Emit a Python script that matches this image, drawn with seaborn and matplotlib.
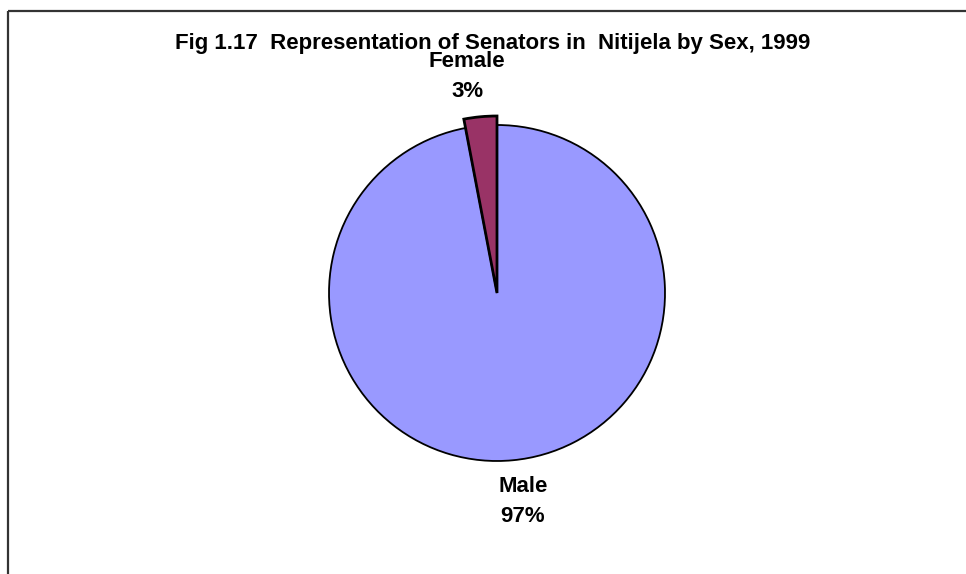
import matplotlib
matplotlib.use("Agg")
import matplotlib.pyplot as plt
import seaborn as sns
from matplotlib.lines import Line2D

# Senators in Nitijela by sex, 1999 (percent)
categories = ["Female", "Male"]
shares = [3, 97]
colors = ["#993366", "#9999FF"]
title = "Fig 1.17  Representation of Senators in  Nitijela by Sex, 1999"

sns.set_theme(style="white")
plt.rcParams["font.family"] = ["Liberation Sans", "DejaVu Sans"]

W, H = 966, 574
fig = plt.figure(figsize=(W / 100, H / 100), dpi=100)
fig.patch.set_facecolor("white")

# axes spanning the whole canvas, one data unit per pixel (y measured from the bottom)
ax = fig.add_axes([0, 0, 1, 1])


def py(y_from_top):
    return H - y_from_top


cx, cy, r = 497, py(293), 168
wedges, _ = ax.pie(
    shares,
    colors=colors,
    startangle=90,
    counterclock=True,
    center=(cx, cy),
    radius=r,
    wedgeprops=dict(edgecolor="black", linewidth=1.3),
)
# the small slice is pulled out radially
wedges[0].set_radius(177)
wedges[0].set_linewidth(2.0)
wedges[0].set_zorder(3)

ax.set_xlim(0, W)
ax.set_ylim(0, H)
ax.set_aspect("equal")
ax.axis("off")

total = sum(shares)
label_pos = {"Female": (467, 67), "Male": (523, 492)}
for name, val in zip(categories, shares):
    x, yb = label_pos[name]
    ax.text(x, py(yb), name, ha="center", va="baseline",
            fontsize=16, fontweight="bold", color="black")
    ax.text(x, py(yb + 30), f"{val / total * 100:.0f}%", ha="center",
            va="baseline", fontsize=16, fontweight="bold", color="black")

ax.text(492.5, py(49), title, ha="center", va="baseline",
        fontsize=16, fontweight="bold", color="black")

# chart-area frame (top and left edges)
ax.add_line(Line2D([8, W], [py(11), py(11)], color="#333333", linewidth=1.6,
                   solid_capstyle="butt"))
ax.add_line(Line2D([8, 8], [py(11), 0], color="#333333", linewidth=1.6,
                   solid_capstyle="butt"))

fig.savefig("out.png", dpi=100)
